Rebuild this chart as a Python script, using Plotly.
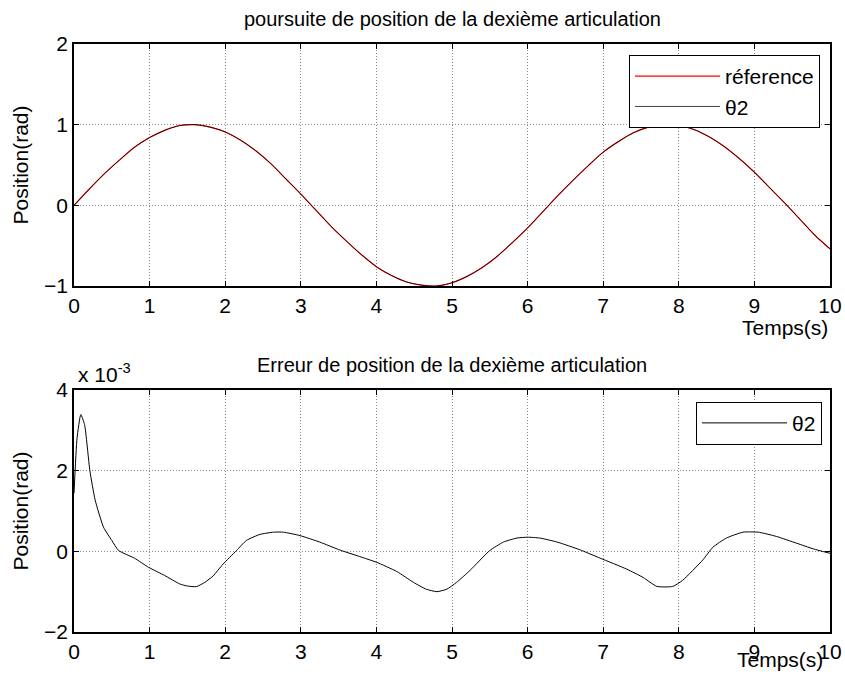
import plotly.graph_objects as go

# --- data -------------------------------------------------------------
# time samples (s) for the position tracking plot
t_pos = [0.0, 0.2, 0.4, 0.6, 0.8, 1.0, 1.2, 1.4, 1.6, 1.8,
         2.0, 2.2, 2.4, 2.6, 2.8, 3.0, 3.2, 3.4, 3.6, 3.8,
         4.0, 4.2, 4.4, 4.6, 4.8, 5.0, 5.2, 5.4, 5.6, 5.8,
         6.0, 6.2, 6.4, 6.6, 6.8, 7.0, 7.2, 7.4, 7.6, 7.8,
         8.0, 8.2, 8.4, 8.6, 8.8, 9.0, 9.2, 9.4, 9.6, 9.8, 10.0]

# reference trajectory (rad)
reference = [0.00, 0.20, 0.39, 0.56, 0.72, 0.84, 0.93, 0.99, 1.00, 0.97,
             0.91, 0.81, 0.68, 0.52, 0.33, 0.14, -0.06, -0.26, -0.44, -0.61,
             -0.76, -0.87, -0.95, -0.99, -1.00, -0.96, -0.88, -0.77, -0.63, -0.46,
             -0.28, -0.08, 0.12, 0.31, 0.49, 0.66, 0.79, 0.90, 0.97, 1.00,
             0.99, 0.94, 0.85, 0.73, 0.58, 0.41, 0.22, 0.03, -0.17, -0.37, -0.54]

# measured joint position theta2 (rad)
theta2 = [0.00, 0.20, 0.39, 0.56, 0.72, 0.84, 0.93, 0.99, 1.00, 0.97,
          0.91, 0.81, 0.68, 0.52, 0.33, 0.14, -0.06, -0.26, -0.44, -0.61,
          -0.76, -0.87, -0.95, -0.99, -1.00, -0.96, -0.88, -0.77, -0.63, -0.46,
          -0.28, -0.08, 0.12, 0.31, 0.49, 0.66, 0.79, 0.90, 0.97, 1.00,
          0.99, 0.94, 0.85, 0.73, 0.58, 0.41, 0.22, 0.03, -0.17, -0.37, -0.54]

# time samples (s) for the tracking error
t_err = [0.0, 0.04, 0.09, 0.14, 0.21, 0.28, 0.39, 0.5, 0.59, 0.8,
         0.99, 1.2, 1.4, 1.5, 1.62, 1.73, 1.84, 1.97, 2.15, 2.28,
         2.46, 2.64, 2.77, 2.99, 3.25, 3.52, 3.78, 4.0, 4.27, 4.49,
         4.66, 4.80, 4.93, 5.06, 5.24, 5.50, 5.68, 5.86, 6.0, 6.16,
         6.39, 6.69, 6.96, 7.31, 7.53, 7.71, 7.92, 8.05, 8.32, 8.45,
         8.63, 8.85, 9.05, 9.29, 9.56, 9.78, 10.0]

# position error of theta2, in units of 1e-3 rad
err_e3 = [1.44, 2.8, 3.39, 3.14, 2.0, 1.27, 0.6, 0.27, 0.02, -0.17,
          -0.4, -0.6, -0.81, -0.86, -0.875, -0.77, -0.61, -0.32, 0.02, 0.27,
          0.42, 0.475, 0.475, 0.39, 0.23, 0.03, -0.13, -0.27, -0.5, -0.77,
          -0.94, -1.0, -0.94, -0.77, -0.47, 0.02, 0.23, 0.33, 0.35, 0.33,
          0.23, 0.04, -0.17, -0.44, -0.65, -0.87, -0.87, -0.72, -0.21, 0.1,
          0.33, 0.475, 0.475, 0.37, 0.2, 0.06, -0.05]

x_ticks = list(range(0, 11))
y_ticks_pos = [-1, 0, 1, 2]
y_ticks_err = [-2, 0, 2, 4]

FONT = "Liberation Sans, Arial, Helvetica, sans-serif"
FS = 21

# --- figure -----------------------------------------------------------
fig = go.Figure()

fig.add_trace(go.Scatter(x=t_pos, y=reference, mode="lines", name="réference",
                         line=dict(color="#ff0000", width=1.2, shape="spline",
                                   smoothing=0.8),
                         xaxis="x", yaxis="y", legend="legend"))
fig.add_trace(go.Scatter(x=t_pos, y=theta2, mode="lines", name="θ2",
                         line=dict(color="#000000", width=1, shape="spline",
                                   smoothing=0.8),
                         opacity=0.75,
                         xaxis="x", yaxis="y", legend="legend"))
fig.add_trace(go.Scatter(x=t_err, y=err_e3, mode="lines", name="θ2",
                         line=dict(color="#000000", width=1, shape="spline",
                                   smoothing=0.5),
                         xaxis="x2", yaxis="y2", legend="legend2"))

axis_common = dict(
    showline=True, linecolor="black", linewidth=1.6, mirror="allticks",
    ticks="inside", ticklen=5, tickwidth=1, tickcolor="black",
    showgrid=True, gridcolor="#8a8a8a", gridwidth=1, griddash="1px,2px",
    zeroline=False, tickfont=dict(family=FONT, size=FS, color="black"),
    automargin=False, ticklabeloverflow="allow",
)

fig.update_layout(
    width=845, height=683,
    margin=dict(l=74, r=15, t=44, b=51, autoexpand=False),
    paper_bgcolor="white", plot_bgcolor="white",
    font=dict(family=FONT, size=FS, color="black"),
    xaxis=dict(domain=[0, 1], range=[0, 10], tickvals=x_ticks, anchor="y",
               **axis_common),
    yaxis=dict(domain=[0.5884, 1], range=[-1, 2], tickvals=y_ticks_pos, anchor="x",
               title=dict(text="Position(rad)", standoff=10,
                          font=dict(family=FONT, size=FS)),
               **axis_common),
    xaxis2=dict(domain=[0, 1], range=[0, 10], tickvals=x_ticks, anchor="y2",
                **axis_common),
    yaxis2=dict(domain=[0, 0.4116], range=[-2, 4], tickvals=y_ticks_err, anchor="x2",
                title=dict(text="Position(rad)", standoff=10,
                           font=dict(family=FONT, size=FS)),
                **axis_common),
    legend=dict(x=0.9868, y=0.9813, xanchor="right", yanchor="top",
                bgcolor="white", bordercolor="black", borderwidth=1,
                font=dict(family=FONT, size=FS), itemwidth=85,
                tracegroupgap=0),
    legend2=dict(x=0.9894, y=0.4116 - 0.02, xanchor="right", yanchor="top",
                 bgcolor="white", bordercolor="black", borderwidth=1,
                 font=dict(family=FONT, size=FS), itemwidth=85),
)

annotations = [
    dict(text="poursuite de position de la dexième articulation",
         x=0.5, y=1.0, xref="paper", yref="paper", xanchor="center",
         yanchor="bottom", yshift=12, showarrow=False,
         font=dict(family=FONT, size=20)),
    dict(text="Erreur de position de la dexième articulation",
         x=0.5, y=0.4116, xref="paper", yref="paper", xanchor="center",
         yanchor="bottom", yshift=12, showarrow=False,
         font=dict(family=FONT, size=20)),
    dict(text="Temps(s)", x=1.0, y=0.5884, xref="paper", yref="paper",
         xanchor="right", yanchor="middle", yshift=-41, showarrow=False,
         font=dict(family=FONT, size=FS)),
    dict(text="Temps(s)", x=0.994, y=0.0, xref="paper", yref="paper",
         xanchor="right", yanchor="middle", yshift=-27, showarrow=False,
         font=dict(family=FONT, size=FS)),
    dict(text="x 10<sup>-3</sup>", x=0.0, y=0.4116, xref="paper", yref="paper",
         xanchor="left", yanchor="bottom", xshift=2, yshift=2, showarrow=False,
         font=dict(family=FONT, size=FS)),
]
fig.update_layout(annotations=annotations)

fig.write_html("out.html")
